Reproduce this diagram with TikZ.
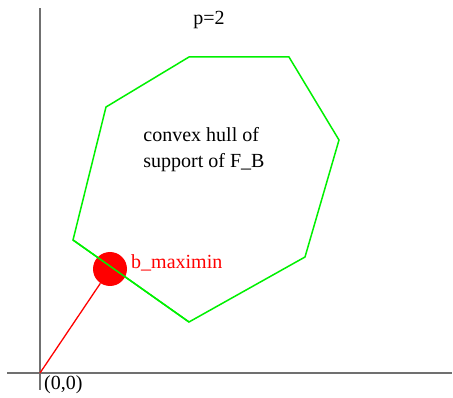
\documentclass[tikz,border=0pt]{standalone}
\usepackage{fontspec}
\setmainfont{Liberation Serif}
\usetikzlibrary{calc}
\definecolor{axisgray}{HTML}{707070}
\definecolor{hullgreen}{HTML}{00F000}
\definecolor{pointred}{HTML}{FF0000}
\tikzset{every node/.append style={font=\fontsize{20}{26}\selectfont,inner sep=0pt}}
\begin{document}
\begin{tikzpicture}[x=1pt,y=-1pt]
  \useasboundingbox (0,0) rectangle (453,398);
  % axes
  \coordinate (O) at (40,373);
  \coordinate (xl) at (7,373);
  \coordinate (xr) at (452,373);
  \coordinate (yt) at (40,8);
  \coordinate (yb) at (40,390);
  \draw[axisgray,line width=1.8pt] (xl)--(xr);
  \draw[axisgray,line width=1.8pt] (yb)--(yt);
  % hull
  \coordinate (h1) at (73,240);
  \coordinate (h2) at (106,107);
  \coordinate (h3) at (189,57);
  \coordinate (h4) at (289,57);
  \coordinate (h5) at (339,140);
  \coordinate (h6) at (305,257);
  \coordinate (h7) at (189,322);
  \draw[hullgreen,line width=1.5pt] (h1)--(h2)--(h3)--(h4)--(h5)--(h6)--(h7)--cycle;
  % maximin point
  \node[circle,fill=pointred,minimum size=34pt] (bmax) at (110,269) {};
  \draw[pointred,line width=1.3pt] (O)--(bmax);
  \draw[hullgreen,line width=1.5pt] (h1)--(h7);
  \node[pointred,anchor=base west] (bmaxlabel) at (131,269) {b\_maximin};
  \node[anchor=base west] (origin) at (44,390) {(0,0)};
  \node[anchor=base] (ptitle) at (209,25) {p=2};
  \node[align=left,anchor=center] (hulllabel) at (204,150) {convex hull of\\support of F\_B};
\end{tikzpicture}
\end{document}
